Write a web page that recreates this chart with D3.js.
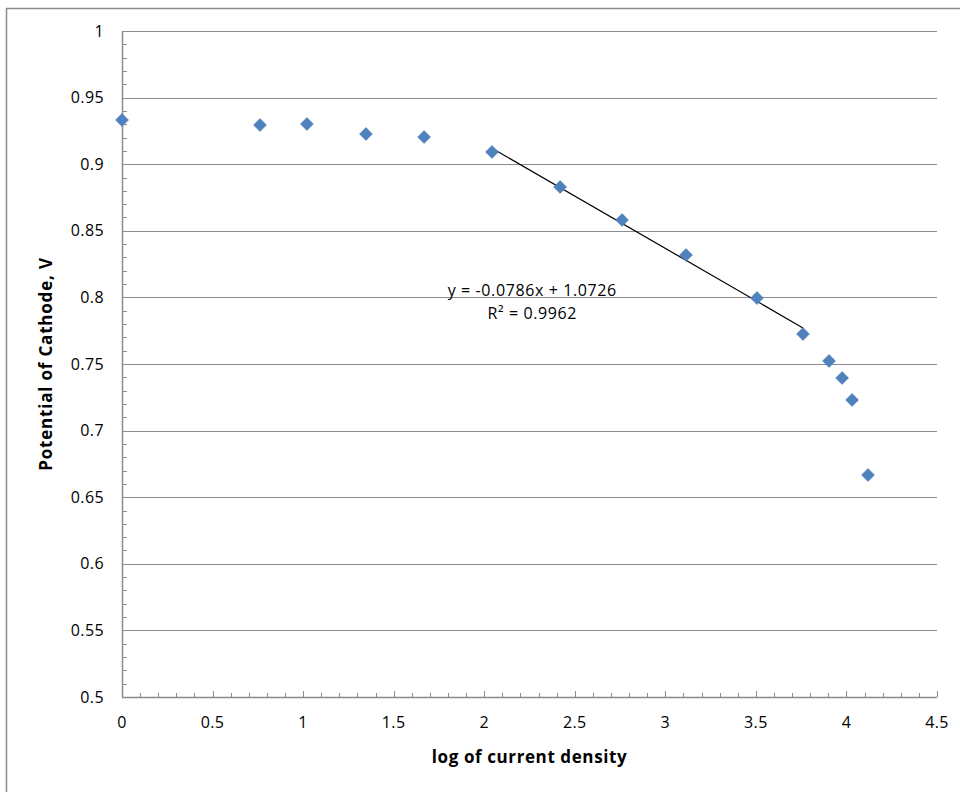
<!DOCTYPE html>
<html>
<head>
<meta charset="utf-8">
<script src="https://cdn.jsdelivr.net/npm/d3@7"></script>
<style>
  html, body { margin: 0; padding: 0; background: #fff; }
  svg { font-family: "Open Sans", "Liberation Sans", sans-serif; }
</style>
</head>
<body>
<div id="chart"></div>
<script>
// measured points: log of current density vs cathode potential
const logDensity = [0, 0.762, 1.021, 1.347, 1.668, 2.043, 2.419, 2.761, 3.114, 3.506, 3.760, 3.904, 3.976, 4.031, 4.119]
const potential  = [0.9332, 0.9294, 0.9302, 0.9227, 0.9204, 0.9092, 0.8829, 0.8581, 0.8318, 0.7995, 0.7725, 0.7523, 0.7395, 0.7230, 0.6667]

// linear trendline (fitted on points 5..10)
const trendSlope = -0.0786
const trendIntercept = 1.0726
const trendRange = [2.043, 3.760]
const trendLabel = ['y = -0.0786x + 1.0726', 'R² = 0.9962']

const xTicks = [0, 0.5, 1, 1.5, 2, 2.5, 3, 3.5, 4, 4.5]
const yTicks = [0.5, 0.55, 0.6, 0.65, 0.7, 0.75, 0.8, 0.85, 0.9, 0.95, 1]

const width = 960, height = 792
const margin = { top: 31, right: 23, bottom: 95, left: 122 }
const innerW = width - margin.left - margin.right
const innerH = height - margin.top - margin.bottom

const svg = d3.select('#chart').append('svg')
  .attr('width', width)
  .attr('height', height)

// chart area frame (only left/top visible in crop)
svg.append('path')
  .attr('d', `M6.5,${height} V8.5 H${width}`)
  .attr('fill', 'none')
  .attr('stroke', '#8c8c8c')
  .attr('stroke-width', 1.5)

const g = svg.append('g')
  .attr('transform', `translate(${margin.left},${margin.top})`)

const x = d3.scaleLinear().domain([0, 4.5]).range([0, innerW])
const y = d3.scaleLinear().domain([0.5, 1]).range([innerH, 0])

// gridlines
g.append('g')
  .selectAll('line')
  .data(yTicks.slice(1))
  .join('line')
    .attr('x1', 0)
    .attr('x2', innerW)
    .attr('y1', d => Math.round(y(d)) + 0.5)
    .attr('y2', d => Math.round(y(d)) + 0.5)
    .attr('stroke', '#8c8c8c')
    .attr('stroke-width', 1)

// x axis with minor ticks every 0.1, ticks pointing up
const xMinor = d3.range(0, 45.5).map(i => i / 10)
const xAxis = g.append('g').attr('transform', `translate(0,${innerH})`)
xAxis.append('line')
  .attr('x1', 0).attr('x2', innerW)
  .attr('y1', 0.5).attr('y2', 0.5)
  .attr('stroke', '#8c8c8c').attr('stroke-width', 1.5)
xAxis.selectAll('line.minor')
  .data(xMinor)
  .join('line')
    .attr('class', 'minor')
    .attr('x1', d => Math.round(x(d)) + 0.5)
    .attr('x2', d => Math.round(x(d)) + 0.5)
    .attr('y1', 0)
    .attr('y2', (d, i) => i % 5 === 0 ? -6 : -4)
    .attr('stroke', '#8c8c8c')
xAxis.selectAll('text')
  .data(xTicks)
  .join('text')
    .attr('x', d => x(d))
    .attr('y', 31)
    .attr('text-anchor', 'middle')
    .attr('font-size', 16)
    .attr('letter-spacing', 0.4)
    .attr('fill', '#000')
    .text(d => d)

// y axis with minor ticks every 0.01, ticks pointing right
const yMinor = d3.range(50, 100.5).map(i => i / 100)
const yAxis = g.append('g')
yAxis.append('line')
  .attr('x1', 0.5).attr('x2', 0.5)
  .attr('y1', 0).attr('y2', innerH)
  .attr('stroke', '#8c8c8c').attr('stroke-width', 1.5)
yAxis.selectAll('line.minor')
  .data(yMinor)
  .join('line')
    .attr('class', 'minor')
    .attr('x1', 0)
    .attr('x2', 5)
    .attr('y1', d => Math.round(y(d)) + 0.5)
    .attr('y2', d => Math.round(y(d)) + 0.5)
    .attr('stroke', '#8c8c8c')
yAxis.selectAll('text')
  .data(yTicks)
  .join('text')
    .attr('x', -18)
    .attr('y', d => y(d))
    .attr('dy', '0.35em')
    .attr('text-anchor', 'end')
    .attr('font-size', 16)
    .attr('letter-spacing', 0.4)
    .attr('fill', '#000')
    .text(d => d)

// axis titles
g.append('text')
  .attr('x', innerW / 2 - 0)
  .attr('y', innerH + 66)
  .attr('text-anchor', 'middle')
  .attr('font-size', 17)
  .attr('font-weight', 'bold')
  .attr('letter-spacing', 0.6)
  .text('log of current density')

g.append('text')
  .attr('transform', 'rotate(-90)')
  .attr('x', -innerH / 2 + 0)
  .attr('y', -70)
  .attr('text-anchor', 'middle')
  .attr('font-size', 17)
  .attr('font-weight', 'bold')
  .attr('letter-spacing', 0.8)
  .text('Potential of Cathode, V')

// trendline
g.append('line')
  .attr('x1', x(trendRange[0]))
  .attr('y1', y(trendSlope * trendRange[0] + trendIntercept))
  .attr('x2', x(trendRange[1]))
  .attr('y2', y(trendSlope * trendRange[1] + trendIntercept))
  .attr('stroke', '#000')
  .attr('stroke-width', 1.2)

// data markers (diamonds)
const diamond = d3.symbol().type(d3.symbolSquare).size(84)
g.append('g')
  .selectAll('path')
  .data(logDensity.map((d, i) => [d, potential[i]]))
  .join('path')
    .attr('d', diamond)
    .attr('transform', d => `translate(${x(d[0])},${y(d[1])}) rotate(45)`)
    .attr('fill', '#4f81bd')
    .attr('stroke', '#4a7ebb')
    .attr('stroke-width', 0.5)

// trendline label
const lbl = g.append('text')
  .attr('x', x(2.265))
  .attr('y', y(0.8))
  .attr('text-anchor', 'middle')
  .attr('font-size', 16)
  .attr('letter-spacing', 0.6)
  .attr('fill', '#000')
lbl.selectAll('tspan')
  .data(trendLabel)
  .join('tspan')
    .attr('x', x(2.265))
    .attr('dy', (d, i) => i === 0 ? -1 : 23)
    .text(d => d)
</script>
</body>
</html>
